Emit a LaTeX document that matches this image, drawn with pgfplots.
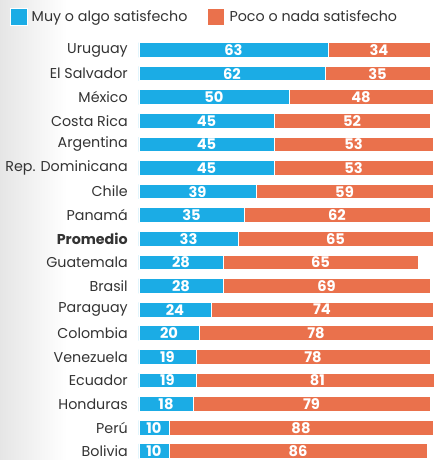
\documentclass[border=0pt]{standalone}
\usepackage{pgfplots}
\pgfplotsset{compat=1.18}
\usepackage{fontspec}
\setmainfont{Poppins}
\definecolor{azul}{RGB}{27,172,229}
\definecolor{naranja}{RGB}{234,113,76}
\begin{document}
\begin{tikzpicture}
% soft grey band at the left edge
\shade[left color=black!10, right color=white] (0,0) rectangle (50pt,-345pt);
\begin{axis}[
  at={(104.25pt,-28.65pt)}, anchor=north west,
  scale only axis, width=227.25pt, height=316.35pt,
  xbar stacked, bar width=0.62,
  xmin=0, xmax=101, ymin=-0.5, ymax=17.37,
  y dir=reverse,
  axis line style={draw=none}, major tick length=0pt,
  xtick=\empty,
  ytick={0,...,17},
  yticklabels={Uruguay, El Salvador, México, Costa Rica, Argentina, Rep. Dominicana, Chile, Panamá, \textbf{Promedio}, Guatemala, Brasil, Paraguay, Colombia, Venezuela, Ecuador, Honduras, Perú, Bolivia},
  yticklabel style={font=\fontsize{10.7}{12}\selectfont, text=black!80, inner sep=0pt, xshift=-8.25pt},
  visualization depends on={value \thisrow{v} \as \val},
  nodes near coords={\val},
  nodes near coords style={font=\bfseries\fontsize{11}{12}\selectfont, text=white, anchor=center},
  legend columns=2,
  legend image code/.code={\fill[#1] (0pt,-6.4pt) rectangle (12.75pt,6.4pt);},
  legend style={at={(axis description cs:-0.4281,1.051)}, anchor=west,
    draw=none, fill=none, inner sep=0pt,
    font=\fontsize{10.7}{12}\selectfont, text=black!80,
    nodes={inner sep=0pt},
    /tikz/every odd column/.append style={column sep=3.2pt},
    /tikz/every even column/.append style={column sep=15pt}},
]
\addplot[fill=azul, draw=white, line width=0.7pt] table[x=v, y=i] {
i v
0 63
1 62
2 50
3 45
4 45
5 45
6 39
7 35
8 33
9 28
10 28
11 24
12 20
13 19
14 19
15 18
16 10
17 10
};
\addlegendentry{Muy o algo satisfecho}
\addplot[fill=naranja, draw=white, line width=0.7pt] table[x=v, y=i] {
i v
0 34
1 35
2 48
3 52
4 53
5 53
6 59
7 62
8 65
9 65
10 69
11 74
12 78
13 78
14 81
15 79
16 88
17 86
};
\addlegendentry{Poco o nada satisfecho}
\end{axis}
\pgfresetboundingbox
\useasboundingbox (0,0) rectangle (325.5pt,-345pt);
\end{tikzpicture}
\end{document}
